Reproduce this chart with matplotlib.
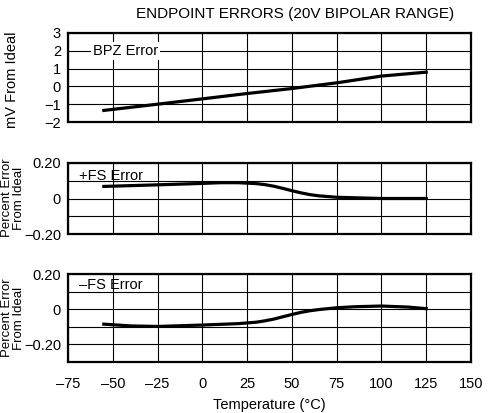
import numpy as np
import matplotlib
matplotlib.use("Agg")
import matplotlib.pyplot as plt

plt.rcParams['font.family'] = ['Liberation Sans', 'DejaVu Sans']
plt.rcParams['font.size'] = 10.5

# Data
temp_bpz = [-55, -25, 0, 25, 50, 75, 100, 125]
bpz_err = [-1.35, -1.0, -0.7, -0.4, -0.12, 0.2, 0.58, 0.8]

temp_pfs = [-55, -25, 0, 10, 20, 30, 35, 40, 45, 50, 55, 60, 65, 75, 100, 125]
pfs_err = [0.068, 0.077, 0.085, 0.089, 0.089, 0.084, 0.078, 0.069, 0.057, 0.044, 0.032, 0.022, 0.015, 0.007, 0.0, 0.0]

temp_nfs = [-55, -40, -25, 0, 20, 30, 35, 40, 45, 50, 55, 60, 65, 75, 85, 100, 115, 125]
nfs_err = [-0.085, -0.095, -0.098, -0.09, -0.082, -0.074, -0.066, -0.056, -0.043, -0.03, -0.018, -0.009, -0.002, 0.008, 0.014, 0.018, 0.012, 0.003]

x_ticks = [-75, -50, -25, 0, 25, 50, 75, 100, 125, 150]

fig = plt.figure(figsize=(4.97, 4.13), dpi=100)

W, H = 497, 413
def panel(top, bottom):
    return fig.add_axes([68 / W, 1 - bottom / H, 403 / W, (bottom - top) / H])

ax1 = panel(33, 122)
ax2 = panel(163, 234)
ax3 = panel(274, 362)

def style(ax, yticks, ylabels, ylim, show_x):
    ax.set_xlim(-75, 150)
    ax.set_ylim(*ylim)
    ax.set_xticks(x_ticks)
    ax.set_yticks(yticks)
    ax.set_yticklabels(ylabels)
    if show_x:
        ax.set_xticklabels([str(t).replace('-', '\u2013') for t in x_ticks])
    else:
        ax.set_xticklabels([])
    ax.grid(True, color='black', linewidth=0.8)
    ax.tick_params(axis='y', length=0, pad=5)
    ax.tick_params(axis='x', length=0, pad=11)
    for s in ax.spines.values():
        s.set_linewidth(1.6)

ax1.plot(temp_bpz, bpz_err, color='black', linewidth=2.3)
style(ax1, [-2, -1, 0, 1, 2, 3], ['\u22122', '\u22121', '0', '1', '2', '3'], (-2, 3), False)
ax1.text(-61, 2, 'BPZ Error', va='center', ha='left',
         bbox=dict(facecolor='white', edgecolor='none', pad=1.5))

ax2.plot(temp_pfs, pfs_err, color='black', linewidth=2.3, solid_joinstyle='round')
style(ax2, [-0.2, -0.1, 0, 0.1, 0.2], ['\u22120.20', '', '0', '', '0.20'], (-0.2, 0.2), False)
ax2.text(-69, 0.125, '+FS Error', va='center', ha='left')

ax3.plot(temp_nfs, nfs_err, color='black', linewidth=2.3, solid_joinstyle='round')
style(ax3, [-0.3, -0.2, -0.1, 0, 0.1, 0.2], ['', '\u22120.20', '', '0', '', '0.20'], (-0.3, 0.2), True)
ax3.text(-69, 0.14, '\u2013FS Error', va='center', ha='left')
ax3.set_xlabel('Temperature (\u00b0C)', labelpad=5)

fig.text(295 / W, 1 - 14 / H, 'ENDPOINT ERRORS (20V BIPOLAR RANGE)', ha='center', va='center',
         fontsize=11)
fig.text(12 / W, 1 - 80 / H, 'mV From Ideal', rotation=90, ha='center', va='center')
fig.text(13 / W, 1 - 198 / H, 'Percent Error\nFrom Ideal', rotation=90, ha='center', va='center',
         fontsize=9.5, linespacing=1.1)
fig.text(13 / W, 1 - 318 / H, 'Percent Error\nFrom Ideal', rotation=90, ha='center', va='center',
         fontsize=9.5, linespacing=1.1)

fig.savefig('out.png', dpi=100)
